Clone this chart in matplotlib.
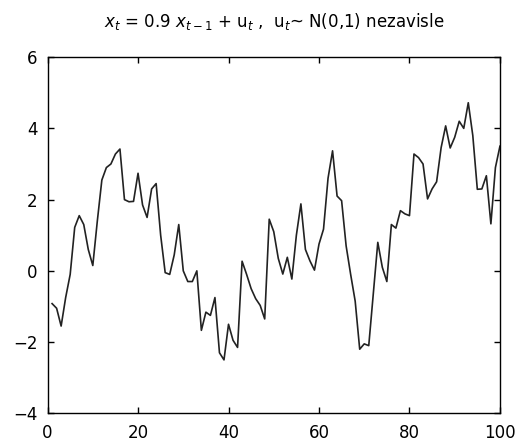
import numpy as np
import matplotlib.pyplot as plt

plt.rcParams['font.family'] = ['DejaVu Sans']
plt.rcParams['mathtext.fontset'] = 'custom'
plt.rcParams['mathtext.rm'] = 'DejaVu Sans'
plt.rcParams['mathtext.it'] = 'DejaVu Sans:italic'

# AR(1) series, t = 1..100
t = np.arange(1, 101)
x = [-0.92, -1.05, -1.55, -0.75, -0.10, 1.22, 1.55, 1.30, 0.60, 0.15,
     1.40, 2.55, 2.90, 3.00, 3.28, 3.42, 2.00, 1.94, 1.95, 2.74,
     1.85, 1.50, 2.30, 2.45, 1.00, -0.05, -0.10, 0.45, 1.30, 0.00,
     -0.30, -0.30, 0.00, -1.67, -1.16, -1.25, -0.75, -2.30, -2.50, -1.50,
     -1.95, -2.15, 0.27, -0.10, -0.50, -0.78, -0.97, -1.35, 1.45, 1.10,
     0.35, -0.09, 0.38, -0.23, 1.00, 1.88, 0.60, 0.28, 0.02, 0.75,
     1.17, 2.60, 3.37, 2.10, 1.97, 0.70, -0.10, -0.85, -2.20, -2.05,
     -2.10, -0.65, 0.80, 0.10, -0.30, 1.30, 1.20, 1.69, 1.60, 1.55,
     3.28, 3.18, 3.00, 2.02, 2.30, 2.50, 3.46, 4.07, 3.45, 3.75,
     4.20, 4.00, 4.72, 3.80, 2.29, 2.30, 2.67, 1.32, 2.90, 3.50]

xticks = [0, 20, 40, 60, 80, 100]
yticks = [-4, -2, 0, 2, 4, 6]

fig = plt.figure(figsize=(5.17, 4.43), dpi=100)
ax = fig.add_axes([0.092, 0.067, 0.875, 0.804])
ax.plot(t, x, color='#222222', linewidth=1.2)

ax.set_xlim(0, 100)
ax.set_ylim(-4, 6)
ax.set_xticks(xticks)
ax.set_yticks(yticks)
ax.tick_params(direction='in', length=4, width=1, top=True, right=True,
               labelsize=12, pad=7)
ax.tick_params(axis='x', pad=8)
for s in ax.spines.values():
    s.set_linewidth(1.0)

ax.set_title(r'$x_t$ = 0.9 $x_{t-1}$ + u$_t$ ,  u$_t$~ N(0,1) nezavisle',
             fontsize=12, pad=22)

fig.savefig('out.png', dpi=100)
